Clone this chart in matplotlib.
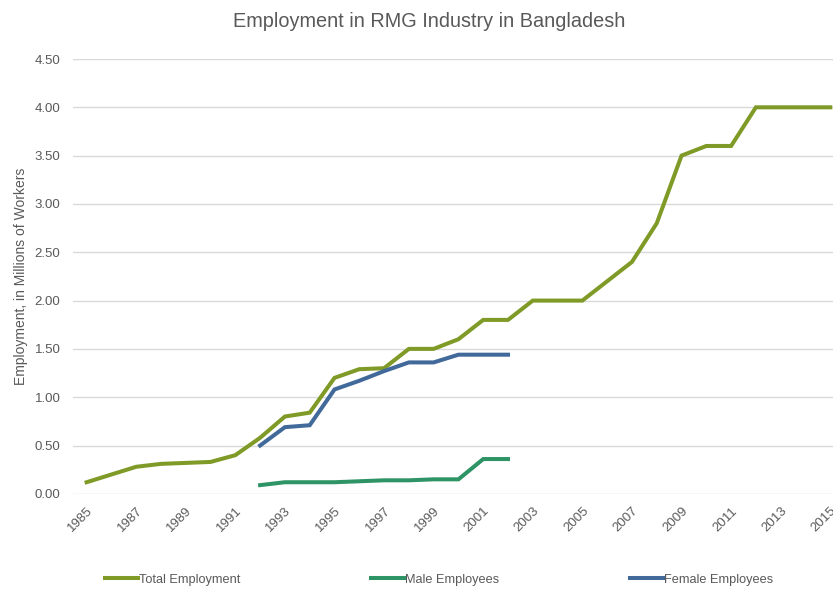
import matplotlib
matplotlib.use("Agg")
import matplotlib.pyplot as plt

plt.rcParams["font.family"] = ["Liberation Sans", "DejaVu Sans"]

years_total = list(range(1985, 2016))
total_employment = [0.12, 0.20, 0.28, 0.31, 0.32, 0.33, 0.40, 0.58, 0.80, 0.84,
                    1.20, 1.29, 1.30, 1.50, 1.50, 1.60, 1.80, 1.80, 2.00, 2.00,
                    2.00, 2.20, 2.40, 2.80, 3.50, 3.60, 3.60, 4.00, 4.00, 4.00,
                    4.00]

years_split = list(range(1992, 2003))
male_employees = [0.09, 0.12, 0.12, 0.12, 0.13, 0.14, 0.14, 0.15, 0.15, 0.36, 0.36]
female_employees = [0.50, 0.69, 0.71, 1.08, 1.17, 1.27, 1.36, 1.36, 1.44, 1.44, 1.44]

year_ticks = list(range(1985, 2016, 2))
value_ticks = [0.0, 0.5, 1.0, 1.5, 2.0, 2.5, 3.0, 3.5, 4.0, 4.5]

c_total = "#7f9a26"
c_male = "#2e9466"
c_female = "#41699a"
c_text = "#595959"

fig = plt.figure(figsize=(8.33, 5.90), dpi=100)
# plot area runs a little past the right edge of the canvas
ax = fig.add_axes([0.0876, 0.163, 0.924, 0.737])

ax.plot(years_total, total_employment, color=c_total, lw=2.9, label="Total Employment",
        solid_joinstyle="miter")
ax.plot(years_split, male_employees, color=c_male, lw=2.9, label="Male Employees",
        solid_joinstyle="miter")
ax.plot(years_split, female_employees, color=c_female, lw=2.9, label="Female Employees",
        solid_joinstyle="miter")

ax.set_xlim(1984.45, 2015.5)
ax.set_ylim(0, 4.5)
ax.set_yticks(value_ticks)
ax.set_yticklabels([f"{v:.2f}" for v in value_ticks])
ax.set_xticks(year_ticks)
ax.set_xticklabels([str(y) for y in year_ticks], rotation=45, ha="right",
                   rotation_mode="anchor")

ax.grid(axis="y", color="#d9d9d9", lw=1)
ax.set_axisbelow(True)
for s in ax.spines.values():
    s.set_visible(False)
ax.tick_params(axis="both", length=0, labelsize=9.5, colors=c_text)
ax.tick_params(axis="x", pad=8)
ax.tick_params(axis="y", pad=9)

ax.set_ylabel("Employment, in Millions of Workers", fontsize=10, color=c_text)
ax.yaxis.set_label_coords(-0.059, 0.5)
fig.text(0.515, 0.964, "Employment in RMG Industry in Bangladesh", ha="center",
         va="center", fontsize=14.3, color=c_text)

fig.legend(loc="center", bbox_to_anchor=(0.527, 0.017), ncol=3, frameon=False,
           fontsize=9.2, handlelength=2.6, handletextpad=0.1,
           columnspacing=10.2, labelcolor=c_text)

fig.savefig("out.png", dpi=100)
